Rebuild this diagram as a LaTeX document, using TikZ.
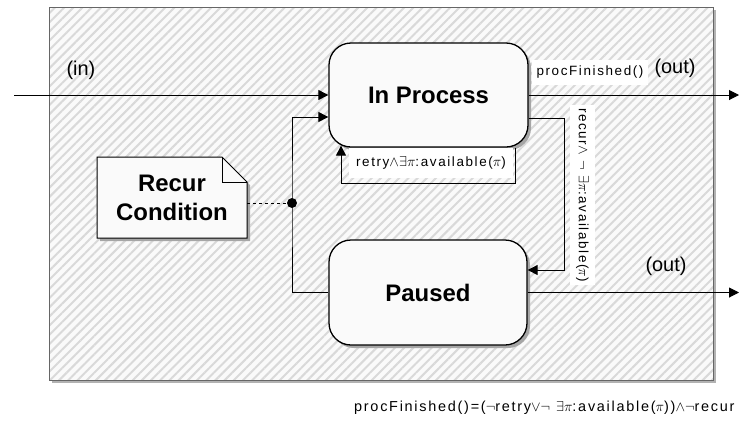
\documentclass[tikz,border=0pt]{standalone}
\usepackage{fontspec}
\setmainfont{Liberation Sans}
\newfontfamily\spc[LetterSpace=12]{Liberation Sans}
\usetikzlibrary{arrows.meta,patterns.meta,shadows,calc}
\begin{document}
\begin{tikzpicture}[x=1bp,y=-1bp,
  state/.style={draw,line width=1.3bp,rounded corners=22bp,fill=gray!4,
    minimum width=199bp,minimum height=104bp,inner sep=0,
    font=\fontsize{24}{28}\selectfont\bfseries,
    drop shadow={shadow xshift=3bp,shadow yshift=-3bp,fill=gray!70,opacity=1}},
  arr/.style={line width=1bp,-{Triangle[length=10bp,width=10bp]}},
  conn/.style={line width=1bp},
  lbl/.style={fill=white,inner sep=2bp,font=\spc\fontsize{13.5}{15}\selectfont},
  port/.style={font=\fontsize{20}{24}\selectfont}
]
\useasboundingbox (0,0) rectangle (740,421);
% frame
\fill[gray!60] (52,10) rectangle (716,383);
\fill[gray!4] (49,7) rectangle (713,380);
\fill[pattern={Lines[angle=45,distance=6.5bp,line width=2bp]},pattern color=gray!30] (49,7) rectangle (713,380);
\draw[gray!80!black,line width=0.8bp] (49,7) rectangle (713,380);

% states
\node[state] (inproc) at (428.5,95) {In Process};
\node[state,minimum width=198bp,minimum height=105bp] (paused) at (428,292.5) {Paused};

% note
\coordinate (nNW) at (97,157);
\coordinate (nSE) at (247,238);
\fill[gray!70] (100,160) -- (225,160) -- (250,185) -- (250,241) -- (100,241) -- cycle;
\draw[line width=1bp,fill=gray!4] (97,157) -- (222,157) -- (247,182) -- (247,238) -- (97,238) -- cycle;
\draw[line width=1bp] (222,157) -- (222,182) -- (247,182);
\node[font=\fontsize{24}{29}\selectfont\bfseries,align=center,minimum width=150bp,minimum height=81bp,inner sep=0] (note) at ($(nNW)!0.5!(nSE)$) {Recur\\Condition};

% junction dot
\node[circle,fill,inner sep=0,minimum size=10bp] (dot) at (292,203) {};

% connectors
\coordinate (inS) at (14,95);
\draw[arr] (inS) -- (inproc.west);
\coordinate (out1) at (739,95);
\draw[arr] (inproc.east) -- (inproc.east -| out1);
\coordinate (out2) at (739,293);
\draw[arr] (paused.east) -- (paused.east -| out2);

\coordinate (rc) at (564,118);
\draw[arr] (inproc.east |- rc) -- (rc) |- ([yshift=22.5bp]paused.east);

\coordinate (r1) at (515,183);
\coordinate (r2) at (341,183);
\draw[arr] (inproc.south -| r1) -- (r1) -- (r2) -- ([yshift=2bp]inproc.south -| r2);

\coordinate (lt) at ([yshift=-22bp]inproc.west);
\draw[arr] (paused.west) -- (paused.west -| dot) -- (dot.center) -- (dot |- lt) -- (lt);

\draw[conn,dashed] (note.east |- dot) -- (dot);

% labels
\node[lbl,minimum width=164bp,minimum height=30bp] (lretry) at (431,163) {retry$\wedge\exists\pi$:available($\pi$)};
\node[lbl,rotate=-90,minimum width=180bp,minimum height=25bp] (lrecur) at (582.5,195) {recur$\wedge$ $\neg$ $\exists\pi$:available($\pi$)};
\node[lbl,minimum width=116bp,minimum height=25bp] (lfin) at (590,72.5) {procFinished()};
\node[port] (pout1) at (675,68) {(out)};
\node[port] (pout2) at (666,266) {(out)};
\node[port] (pin) at (81,70) {(in)};
\node[font=\spc\fontsize{14.5}{16}\selectfont,anchor=east] (formula) at (738,408) {procFinished()=($\neg$retry$\vee\neg$ $\exists\pi$:available($\pi$))$\wedge\neg$recur};
\end{tikzpicture}
\end{document}
